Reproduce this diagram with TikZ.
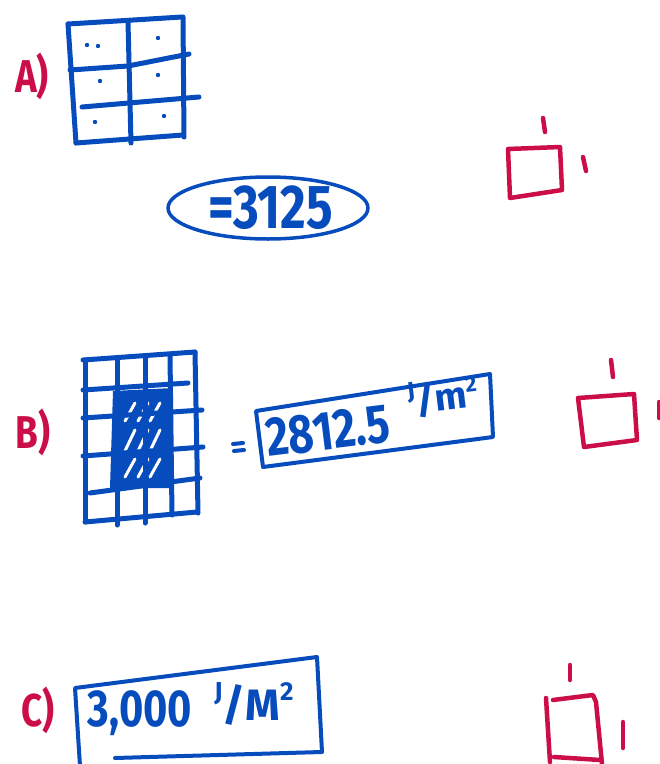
\documentclass[tikz,border=0pt]{standalone}
\usepackage{fontspec}
\setmainfont{Fira Sans}
\usepackage{graphicx}
\definecolor{pen}{RGB}{6,76,188}
\definecolor{ink}{RGB}{204,14,72}
\newcommand{\bigtxt}[2]{\scalebox{0.8}[1]{\fontsize{#1}{#1}\selectfont #2}}
\begin{document}
\begin{tikzpicture}[x=1pt,y=-1pt,line cap=round,line join=round,
  gridline/.style={draw=pen,line width=5pt},
  redline/.style={draw=ink,line width=4.5pt},
  lab/.style={text=ink,inner sep=0pt,font=\bfseries\fontsize{46}{46}\selectfont},
  val/.style={text=pen,inner sep=0pt,font=\bfseries},
  dotmark/.style={fill=pen}]
\useasboundingbox (0,0) rectangle (660,764);

% ---------------- A ----------------
\node[lab] (labA) at (32,76) {\scalebox{0.8}[1]{A)}};
\draw[gridline] (68,24) -- (182,17);
\draw[gridline] (68,24) -- (76,143);
\draw[gridline] (183,17) -- (184,137);
\draw[gridline] (76,143) -- (183,135);
\draw[gridline] (128,22) -- (131,143);
\draw[gridline] (70,70) -- (128,66) -- (189,54);
\draw[gridline] (82,107) -- (199,97);
\foreach \p in {(87,45),(98,46),(158,38),(100,81),(158,75),(95,122),(164,116)}
  \fill[dotmark] \p circle (2.2);

\draw[draw=pen,line width=3.5pt] (268,208) ellipse [x radius=100, y radius=31];
\node[val] (vA) at (271,208) {\bigtxt{62}{=3125}};

\draw[redline] (508,149) -- (560,147) -- (562,190) -- (510,198) -- cycle;
\draw[redline] (543,118) -- (545,132);
\draw[redline] (583,157) -- (586,171);

% ---------------- B ----------------
\node[lab] (labB) at (33,432) {\scalebox{0.8}[1]{B)}};
\fill[pen] (113,391) -- (173,388) -- (172,488) -- (110,488) -- cycle;
\begin{scope}[draw=white,line width=3pt]
  \foreach \yb/\yt in {421/403, 451/430, 477/459}{
    \foreach \xx in {125,138,150}{
      \draw (\xx,\yb) -- (\xx+10,\yt);
    }
  }
\end{scope}
\draw[gridline] (83,360) -- (195,352);
\draw[gridline] (85,360) -- (85,522);
\draw[gridline] (195,352) -- (198,513);
\draw[gridline] (85,522) -- (197,512);
\draw[gridline] (117,358) -- (117,525);
\draw[gridline] (145,357) -- (145,523);
\draw[gridline] (170,355) -- (172,515);
\draw[gridline] (83,390) -- (188,383);
\draw[gridline] (83,418) -- (202,410);
\draw[gridline] (83,456) -- (203,447);
\draw[gridline] (90,493) -- (200,478);

\draw[pen,line width=4pt] (233,444) -- (243,443);
\draw[pen,line width=4pt] (234,451) -- (244,450);

\draw[draw=pen,line width=4pt] (256,411) -- (490,374) -- (493,437) -- (263,467) -- cycle;
\node[val,rotate=7] (vB) at (328,431) {\bigtxt{55}{2812.5}};
\node[val,rotate=7] (uB) at (443,397)
  {\fontsize{38}{38}\selectfont\raisebox{0.4em}{\fontsize{24}{24}\selectfont J}/m\raisebox{0.4em}{\fontsize{22}{22}\selectfont 2}};

\draw[redline] (578,398) -- (634,394) -- (637,440) -- (584,447) -- cycle;
\draw[redline] (611,360) -- (613,377);
\draw[redline] (659,402) -- (659,418);

% ---------------- C ----------------
\node[lab] (labC) at (38,710) {\scalebox{0.8}[1]{C)}};
\draw[draw=pen,line width=4pt] (80,766) -- (75,688) -- (317,657) -- (322,752) -- (115,758);
\node[val] (vC) at (140,713) {\bigtxt{52}{3,000}};
\node[val] (uC) at (254,704)
  {\fontsize{44}{44}\selectfont\raisebox{0.45em}{\fontsize{26}{26}\selectfont J}/M\raisebox{0.45em}{\fontsize{26}{26}\selectfont 2}};

\draw[redline] (546,698) -- (550,762);
\draw[redline] (553,700) -- (593,695) -- (596,702) -- (602,764);
\draw[redline] (554,757) -- (600,760);
\draw[redline] (570,665) -- (570,680);
\draw[redline] (623,722) -- (623,748);
\end{tikzpicture}
\end{document}
